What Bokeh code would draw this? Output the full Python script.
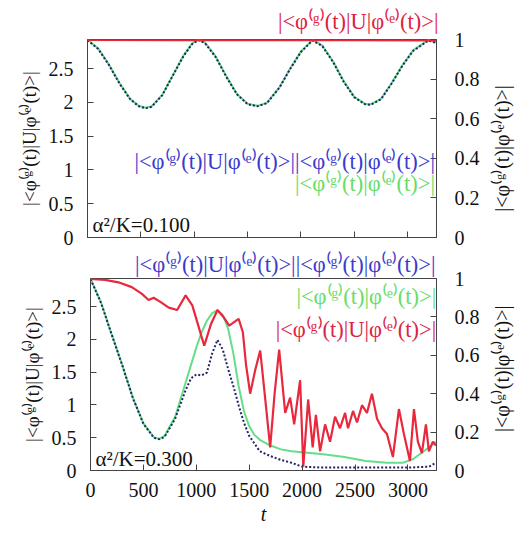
import math
from bokeh.plotting import figure
from bokeh.models import (Range1d, LinearAxis, FixedTicker, CustomJSTickFormatter, Label,
                          Title)
from bokeh.layouts import column, row
from bokeh.embed import file_html
from bokeh.resources import INLINE

# ---------------- data (right-axis units, 0..1) ----------------
# top panel, alpha^2/K = 0.100
t_top = [0, 100, 200, 300, 400, 480, 543, 600, 700, 800, 900, 980, 1040, 1100, 1200, 1300,
         1400, 1500, 1593, 1680, 1800, 1900, 2000, 2108, 2200, 2300, 2400, 2500, 2600, 2652,
         2750, 2850, 2950, 3050, 3195, 3270]
green_top = [1.0, 0.955, 0.875, 0.78, 0.70, 0.665, 0.655, 0.662, 0.72, 0.82, 0.92, 0.98, 1.0,
             0.985, 0.915, 0.815, 0.725, 0.675, 0.665, 0.68, 0.76, 0.855, 0.94, 0.998, 0.97,
             0.89, 0.79, 0.71, 0.675, 0.672, 0.70, 0.78, 0.87, 0.945, 0.998, 0.985]
blue_top = [0.997, 0.952, 0.872, 0.777, 0.698, 0.663, 0.653, 0.660, 0.718, 0.818, 0.917, 0.977,
            0.997, 0.982, 0.912, 0.812, 0.723, 0.673, 0.663, 0.678, 0.758, 0.852, 0.937, 0.995,
            0.967, 0.887, 0.787, 0.708, 0.673, 0.670, 0.698, 0.778, 0.867, 0.942, 0.995, 0.982]
t_red_top = [0, 800, 1600, 2400, 3270]
red_top = [0.998, 0.997, 0.997, 0.997, 0.996]

# bottom panel, alpha^2/K = 0.300
t_green_bot = [0, 100, 200, 300, 400, 500, 600, 650, 700, 800, 900, 1000, 1050, 1100, 1150,
               1200, 1250, 1300, 1350, 1400, 1450, 1500, 1550, 1600, 1700, 1800, 1900, 2000,
               2200, 2400, 2600, 2800, 2950, 3050, 3150, 3265]
green_bot = [1.0, 0.875, 0.71, 0.55, 0.38, 0.245, 0.172, 0.165, 0.18, 0.28, 0.46, 0.64, 0.72,
             0.78, 0.82, 0.835, 0.81, 0.74, 0.61, 0.44, 0.31, 0.23, 0.185, 0.16, 0.13, 0.11,
             0.10, 0.095, 0.085, 0.07, 0.05, 0.04, 0.04, 0.06, 0.10, 0.15]
t_blue_bot = [0, 100, 200, 300, 400, 500, 600, 650, 700, 800, 900, 950, 1000, 1050, 1100, 1150,
              1200, 1250, 1300, 1350, 1400, 1450, 1500, 1550, 1600, 1700, 1800, 1900, 2000,
              2200, 2600, 3000, 3200, 3265]
blue_bot = [0.997, 0.872, 0.708, 0.548, 0.378, 0.243, 0.17, 0.163, 0.175, 0.27, 0.42, 0.48,
            0.50, 0.495, 0.51, 0.61, 0.68, 0.63, 0.53, 0.44, 0.34, 0.25, 0.18, 0.14, 0.10,
            0.075, 0.055, 0.04, 0.02, 0.015, 0.015, 0.015, 0.02, 0.04]
t_red_bot = [0, 137, 264, 390, 486, 549, 597, 660, 740, 819, 899, 962, 1025, 1075, 1137, 1200,
             1264, 1311, 1400, 1440, 1470, 1509, 1555, 1604, 1650, 1698, 1740, 1783, 1840,
             1887, 1925, 1981, 2011, 2057, 2100, 2130, 2170, 2217, 2264, 2311, 2358, 2406,
             2434, 2481, 2519, 2566, 2613, 2660, 2708, 2755, 2802, 2858, 2915, 2962, 3019,
             3057, 3094, 3132, 3170, 3198, 3236, 3265]
red_bot = [0.998, 0.993, 0.98, 0.955, 0.92, 0.888, 0.90, 0.878, 0.848, 0.836, 0.912, 0.86,
           0.743, 0.65, 0.76, 0.836, 0.794, 0.755, 0.79, 0.72, 0.55, 0.40, 0.52, 0.625, 0.38,
           0.12, 0.40, 0.63, 0.30, 0.38, 0.24, 0.47, 0.02, 0.37, 0.12, 0.29, 0.10, 0.24, 0.15,
           0.28, 0.22, 0.30, 0.22, 0.31, 0.25, 0.34, 0.30, 0.40, 0.27, 0.22, 0.19, 0.07, 0.32,
           0.19, 0.05, 0.32, 0.15, 0.09, 0.24, 0.10, 0.15, 0.13]

x_ticks = [0, 500, 1000, 1500, 2000, 2500, 3000]
left_ticks = [0, 0.5, 1, 1.5, 2, 2.5]
right_ticks = [0, 0.2, 0.4, 0.6, 0.8, 1]
LEFT_MAX = 2.93
X_MAX = 3270

LBL_U = "|<φ⁽ᵍ⁾(t)|U|φ⁽ᵉ⁾(t)>|"
LBL_O = "|<φ⁽ᵍ⁾(t)|φ⁽ᵉ⁾(t)>|"
LBL_P = LBL_U + LBL_O

FONT = "Liberation Serif"
RED = "#e8283c"
GREEN = "#66dd88"
BLUE = "#222266"
RED_T = "#dd2244"
GREEN_T = "#66dd66"
BLUE_T = "#3a3acc"
AX = "#444444"
KEY_SIZE = "22.5px"
MAIN_W = 486
SIDE_W = 30


def make_panel(height, border_left, border_top, border_bottom, show_xlabels):
    p = figure(width=MAIN_W, height=height, output_backend="svg", toolbar_location=None,
               x_range=Range1d(0, X_MAX), y_range=Range1d(0, 1), y_axis_location="right",
               min_border_left=border_left, min_border_right=50,
               min_border_top=border_top, min_border_bottom=border_bottom)
    p.extra_y_ranges = {"left": Range1d(0, LEFT_MAX)}
    p.add_layout(LinearAxis(y_range_name="left"), "left")
    p.grid.visible = False
    p.outline_line_color = AX
    p.outline_line_width = 1
    p.background_fill_color = "white"
    p.border_fill_color = "white"
    for ax in p.axis:
        ax.axis_line_color = AX
        ax.major_tick_line_color = AX
        ax.major_tick_in = 6
        ax.major_tick_out = 0
        ax.minor_tick_line_color = None
        ax.major_label_text_font = FONT
        ax.major_label_text_font_size = "20px"
        ax.major_label_text_color = "#111111"
        ax.axis_label_text_font = FONT
        ax.axis_label_text_font_size = "19px"
        ax.axis_label_text_font_style = "normal"
        ax.axis_label_text_color = "#111111"
    p.xaxis.ticker = FixedTicker(ticks=x_ticks)
    if show_xlabels:
        p.xaxis.formatter = CustomJSTickFormatter(code="return String(tick)")
        p.xaxis.major_label_standoff = 12
        p.xaxis.axis_label = "t"
        p.xaxis.axis_label_text_font_style = "italic"
        p.xaxis.axis_label_text_font_size = "20px"
        p.xaxis.axis_label_standoff = 3
    else:
        p.xaxis.formatter = CustomJSTickFormatter(code="return ''")
    left = p.left[0]
    left.ticker = FixedTicker(ticks=left_ticks)
    left.formatter = CustomJSTickFormatter(code="return String(tick)")
    left.major_label_standoff = 14
    left.axis_label = LBL_U
    left.axis_label_standoff = 6
    right = p.right[0]
    right.ticker = FixedTicker(ticks=right_ticks)
    right.formatter = CustomJSTickFormatter(code="return String(tick)")
    right.major_label_standoff = 18
    return p


def side_panel(height, y_center):
    s = figure(width=SIDE_W, height=height, output_backend="svg", toolbar_location=None,
               x_range=Range1d(0, 1), y_range=Range1d(0, 1),
               min_border_left=0, min_border_right=0, min_border_top=0, min_border_bottom=0)
    s.axis.visible = False
    s.grid.visible = False
    s.outline_line_color = None
    s.background_fill_color = "white"
    s.border_fill_color = "white"
    s.add_layout(Label(x=0.5, y=y_center, text=LBL_O, angle=math.pi / 2,
                       text_font=FONT, text_font_size="20px", text_color="#111111",
                       text_align="center", text_baseline="middle"))
    return s


def label(p, x, y, text, color, align="right", size=KEY_SIZE):
    p.add_layout(Label(x=x, y=y, text=text, text_color=color, text_font=FONT,
                       text_font_size=size, text_align=align, text_baseline="middle"))


def key_title(p, text, color, standoff, offset):
    p.add_layout(Title(text=text, align="right", text_color=color, text_font=FONT,
                       text_font_size=KEY_SIZE, text_font_style="normal",
                       standoff=standoff, offset=offset), "above")


# top panel
p1 = make_panel(247, 87, 37, 10, False)
p1.line(t_top, green_top, line_color=GREEN, line_width=2)
p1.line(t_top, blue_top, line_color=BLUE, line_width=2, line_dash="2 2")
p1.line(t_red_top, red_top, line_color=RED, line_width=2.2)
key_title(p1, LBL_U, RED_T, 12, -2)
label(p1, 3255, 0.385, LBL_P, BLUE_T)
label(p1, 3255, 0.275, LBL_O, GREEN_T)
label(p1, 47, 0.065, "α²/K=0.100", "#111111", align="left", size="21px")
s1 = side_panel(247, 0.45)

# bottom panel
p2 = make_panel(280, 90, 31, 50, True)
p2.line(t_green_bot, green_bot, line_color=GREEN, line_width=2)
p2.line(t_blue_bot, blue_bot, line_color=BLUE, line_width=2, line_dash="2 2")
p2.line(t_red_bot, red_bot, line_color=RED, line_width=2.2)
key_title(p2, LBL_P, BLUE_T, 3, 1)
label(p2, 3268, 0.905, LBL_O, GREEN_T)
label(p2, 3268, 0.734, LBL_U, RED_T)
label(p2, 47, 0.06, "α²/K=0.300", "#111111", align="left", size="21px")
s2 = side_panel(280, 0.53)

layout = column(row(p1, s1), row(p2, s2))
open("out.html", "w").write(file_html(layout, INLINE))
